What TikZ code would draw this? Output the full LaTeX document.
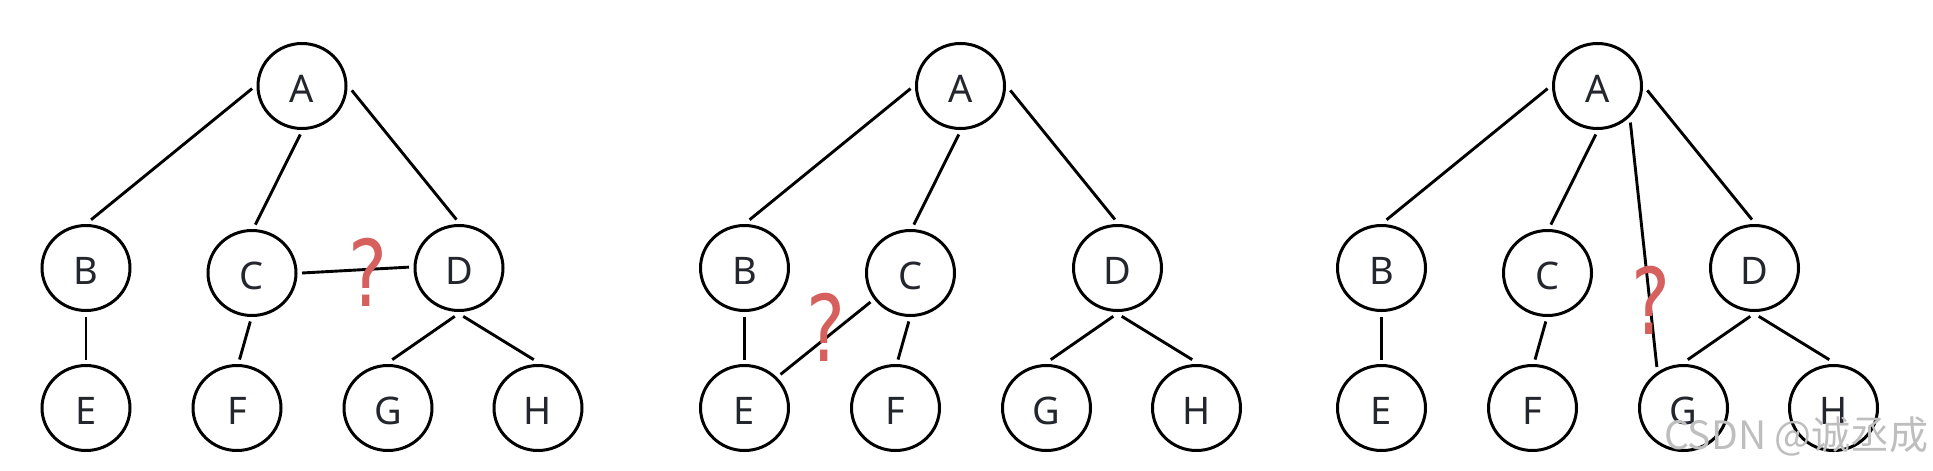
\documentclass[tikz,border=0pt]{standalone}
\usepackage{fontspec}
\usepackage{graphicx}
\usetikzlibrary{shapes.geometric}
\newfontfamily\letterfont{Noto Sans}
\newfontfamily\qfont{DejaVu Sans}
\newfontfamily\cjkfont{Noto Sans CJK SC}
\definecolor{txt}{RGB}{35,38,45}
\definecolor{qred}{RGB}{214,96,94}
\definecolor{wm}{RGB}{190,190,190}
\tikzset{
  vert/.style={ellipse, draw, line width=3pt, minimum width=88pt, minimum height=85pt,
    inner sep=0pt, outer sep=6pt, text=txt, text height=33pt, text depth=0pt,
    font=\letterfont\fontsize{38}{38}\selectfont},
  edge/.style={line width=2.9pt},
  qmark/.style={text=qred, inner sep=0pt, font=\qfont\fontsize{92}{92}\selectfont},
}
\newcommand\drawtree[2]{%
  \begin{scope}[xshift=#2pt]
    \node[vert] (#1A) at (0,86) {A};
    \node[vert] (#1B) at (-216,268) {B};
    \node[vert] (#1C) at (-50,273) {C};
    \node[vert] (#1D) at (157,268) {D};
    \node[vert] (#1E) at (-216,408) {E};
    \node[vert] (#1F) at (-65,408) {F};
    \node[vert] (#1G) at (86,408) {G};
    \node[vert] (#1H) at (236,408) {H};
  \end{scope}
  \draw[edge] (#1A.183) -- (#1B.84.5);
  \draw[edge] (#1A.268) -- (#1C.86);
  \draw[edge] (#1A.355.5) -- (#1D.93.5);
  \draw[edge] (#1B.270) -- (#1E.90);
  \draw[edge] (#1C.268) -- (#1F.87.5);
  \draw[edge] (#1D.265) -- (#1G.85);
  \draw[edge] (#1D.275) -- (#1H.95);
}
\begin{document}
\begin{tikzpicture}[x=1pt,y=-1pt]
  \useasboundingbox[fill=white] (0,0) rectangle (1933,471);
  \drawtree{p}{302}
  \drawtree{q}{960.5}
  \drawtree{r}{1597.5}
  % extra connections
  \draw[edge] (pC.-0.5) -- (pD.179);
  \draw[edge] (qC.216) -- (qE.43.4);
  \draw[edge] (rA.312) -- (rG.123);
  % question marks
  \node[qmark] (q1) at (368.5,272) {\scalebox{0.8}[1]{?}};
  \node[qmark] (q2) at (826.5,327.5) {\scalebox{0.8}[1]{?}};
  \node[qmark] (q3) at (1651,300) {\scalebox{0.8}[1]{?}};
  % watermark
  \node[text=wm, inner sep=0pt, anchor=east, font=\cjkfont\fontsize{39}{39}\selectfont] (wmk) at (1929,437) {CSDN @诚丞成};
\end{tikzpicture}
\end{document}
